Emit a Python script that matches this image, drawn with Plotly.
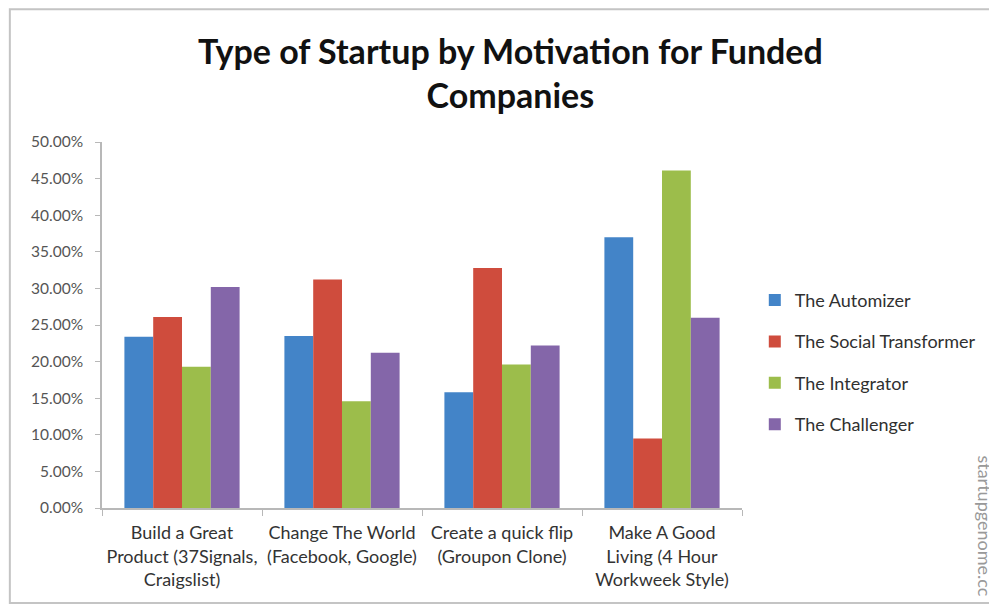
import plotly.graph_objects as go

# Datos
categorias = [
    "Build a Great<br>Product (37Signals,<br>Craigslist)",
    "Change The World<br>(Facebook, Google)",
    "Create a quick flip<br>(Groupon Clone)",
    "Make A Good<br>Living (4 Hour<br>Workweek Style)",
]
series = ["The Automizer", "The Social Transformer", "The Integrator", "The Challenger"]
automizer = [0.234, 0.235, 0.158, 0.370]
social_transformer = [0.261, 0.312, 0.328, 0.095]
integrator = [0.193, 0.146, 0.196, 0.461]
challenger = [0.302, 0.212, 0.222, 0.260]

valores = [automizer, social_transformer, integrator, challenger]
colores = ["#4384c8", "#cf4c3d", "#9cbd4b", "#8466a9"]

fuente = "Lato, 'Open Sans', sans-serif"

fig = go.Figure()
for i, (nombre, vals) in enumerate(zip(series, valores)):
    fig.add_trace(go.Bar(
        x=categorias, y=vals, name=nombre,
        marker=dict(color=colores[i], line=dict(width=0)),
        legendgroup=nombre,
    ))

# la página deja 8px de margen, así que la figura mide 989x597
fig.update_layout(
    width=989, height=597,
    paper_bgcolor="white", plot_bgcolor="white",
    margin=dict(l=94, r=255, t=134, b=97),
    barmode="group", bargap=0.28, bargroupgap=0,
    title=dict(
        text="<b>Type of Startup by Motivation for Funded<br>Companies</b>",
        x=0.508, xanchor="center", y=0.907, yanchor="top",
        font=dict(family=fuente, size=34, color="#111111"),
    ),
    font=dict(family=fuente, size=14, color="#404040"),
    legend=dict(
        x=1.02, xanchor="left", y=0.398, yanchor="middle",
        font=dict(size=18, color="#303030"),
        tracegroupgap=15, itemwidth=30,
    ),
    showlegend=True,
)

fig.update_xaxes(
    showline=True, linecolor="#b8b8b8", linewidth=1.5,
    ticks="outside", tickson="boundaries", ticklen=6, tickcolor="#b8b8b8",
    ticklabelstandoff=8,
    tickfont=dict(size=18, color="#333333"), showgrid=False,
)
fig.update_yaxes(
    range=[0, 0.5], dtick=0.05, tickformat=".2%",
    showline=True, linecolor="#b8b8b8", linewidth=1.5,
    ticks="outside", ticklen=5, tickcolor="#b8b8b8", ticklabelstandoff=9,
    tickfont=dict(size=15.5, color="#555555"), showgrid=False, zeroline=False,
)

# marco de la imagen
fig.add_shape(type="rect", xref="paper", yref="paper",
              x0=-0.144, x1=2.0, y0=-0.2596, y1=1.363,
              line=dict(color="#c4c4c4", width=2))

# marca de agua
fig.add_annotation(text="startupgenome.cc", xref="paper", yref="paper",
                   x=1.38, y=0.15, xanchor="center", yanchor="top",
                   textangle=90, showarrow=False,
                   font=dict(size=18, color="#999999"))

fig.write_html("out.html")
